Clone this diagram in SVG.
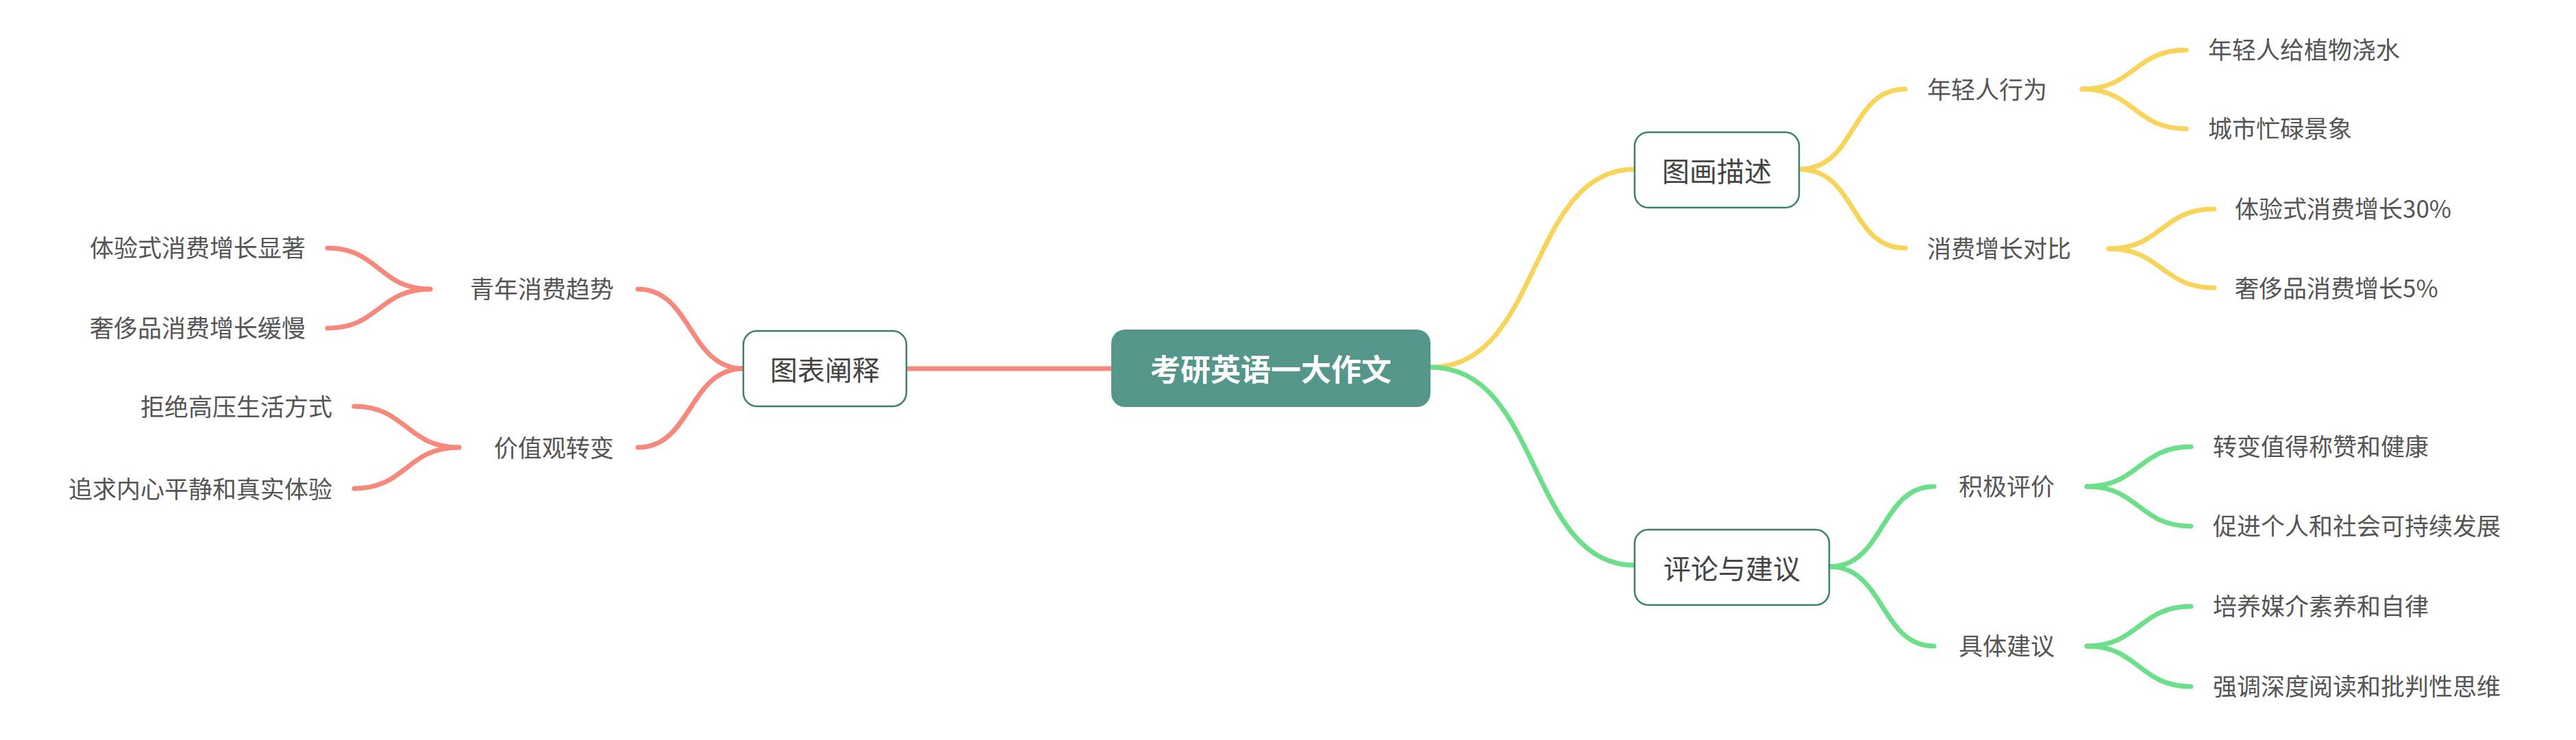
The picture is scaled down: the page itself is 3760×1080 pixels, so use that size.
<svg xmlns="http://www.w3.org/2000/svg" width="3760" height="1080" viewBox="0 0 3760 1080">
<style>
.t{font-family:"Noto Sans CJK SC","Liberation Sans",sans-serif;fill:#555;font-size:35px;dominant-baseline:central}
.n{font-family:"Noto Sans CJK SC","Liberation Sans",sans-serif;fill:#444;font-size:40px;dominant-baseline:central;text-anchor:middle}
.box{fill:#fff;stroke:#3d7f6f;stroke-width:2.5}
.c{fill:none;stroke-width:7;stroke-linecap:round}
.y{stroke:#f9d45a}.g{stroke:#6ddf8a}.r{stroke:#f7897c}
</style>
<rect width="3760" height="1080" fill="#fff"/>
<g id="connectors">
<path class="c y" d="M2089 536 C2250 536 2230 247 2386 247"/>
<path class="c g" d="M2089 536 C2250 536 2230 825 2386 825"/>
<path class="c r" d="M1324 538 L1621 538"/>
<path class="c y" d="M2626 247 C2710 247 2700 130 2781 130"/>
<path class="c y" d="M2626 247 C2710 247 2700 362 2781 362"/>
<path class="c y" d="M3039 130 C3115 130 3115 73 3191 73"/>
<path class="c y" d="M3039 130 C3115 130 3115 188 3191 188"/>
<path class="c y" d="M3078 363 C3155 363 3155 305 3232 305"/>
<path class="c y" d="M3078 363 C3155 363 3155 420 3232 420"/>
<path class="c g" d="M2671 827 C2750 827 2745 710 2823 710"/>
<path class="c g" d="M2671 827 C2750 827 2745 943 2823 943"/>
<path class="c g" d="M3046 710 C3122 710 3122 652 3198 652"/>
<path class="c g" d="M3046 710 C3122 710 3122 768 3198 768"/>
<path class="c g" d="M3046 943 C3122 943 3122 885 3198 885"/>
<path class="c g" d="M3046 943 C3122 943 3122 1002 3198 1002"/>
<path class="c r" d="M1085 538 C1005 538 1010 422 931 422"/>
<path class="c r" d="M1085 538 C1005 538 1010 653 931 653"/>
<path class="c r" d="M628 422 C553 422 553 362 478 362"/>
<path class="c r" d="M628 422 C553 422 553 479 478 479"/>
<path class="c r" d="M670 653 C593 653 593 593 517 593"/>
<path class="c r" d="M670 653 C593 653 593 713 517 713"/>
</g>
<g id="root"><rect x="1622" y="481" width="466" height="113" rx="20" fill="#55968a"/><text class="n" x="1855" y="537" style="fill:#fff;font-weight:bold;font-size:44px">考研英语一大作文</text></g>
<g id="n-tuhua"><rect class="box" x="2386" y="193" width="240" height="110" rx="20"/><text class="n" x="2506" y="248">图画描述</text></g>
<g id="n-pinglun"><rect class="box" x="2386" y="773" width="284" height="110" rx="20"/><text class="n" x="2528" y="828">评论与建议</text></g>
<g id="n-tubiao"><rect class="box" x="1085" y="483" width="238" height="110" rx="20"/><text class="n" x="1204" y="538">图表阐释</text></g>
<g id="n1"><text class="t" x="2813" y="128">年轻人行为</text></g>
<g id="n2"><text class="t" x="2813" y="360">消费增长对比</text></g>
<g id="n3"><text class="t" x="3223" y="70">年轻人给植物浇水</text></g>
<g id="n4"><text class="t" x="3223" y="185">城市忙碌景象</text></g>
<g id="n5"><text class="t" x="3262" y="302">体验式消费增长30%</text></g>
<g id="n6"><text class="t" x="3262" y="418">奢侈品消费增长5%</text></g>
<g id="n7"><text class="t" x="2859" y="707">积极评价</text></g>
<g id="n8"><text class="t" x="2859" y="940">具体建议</text></g>
<g id="n9"><text class="t" x="3230" y="649">转变值得称赞和健康</text></g>
<g id="n10"><text class="t" x="3230" y="765">促进个人和社会可持续发展</text></g>
<g id="n11"><text class="t" x="3230" y="882">培养媒介素养和自律</text></g>
<g id="n12"><text class="t" x="3230" y="999">强调深度阅读和批判性思维</text></g>
<g id="n13"><text class="t" x="896" y="419" text-anchor="end">青年消费趋势</text></g>
<g id="n14"><text class="t" x="896" y="651" text-anchor="end">价值观转变</text></g>
<g id="n15"><text class="t" x="446" y="359" text-anchor="end">体验式消费增长显著</text></g>
<g id="n16"><text class="t" x="446" y="476" text-anchor="end">奢侈品消费增长缓慢</text></g>
<g id="n17"><text class="t" x="485" y="591" text-anchor="end">拒绝高压生活方式</text></g>
<g id="n18"><text class="t" x="485" y="711" text-anchor="end">追求内心平静和真实体验</text></g>
</svg>
